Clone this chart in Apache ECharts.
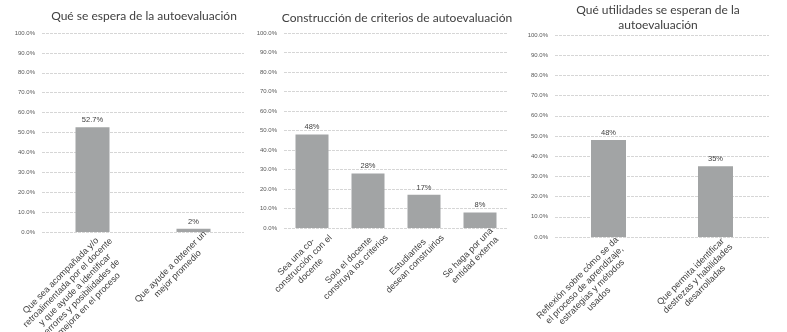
<!DOCTYPE html>
<html>
<head>
<meta charset="utf-8">
<script src="https://cdn.jsdelivr.net/npm/echarts@6/dist/echarts.min.js"></script>
<style>
  html, body { margin: 0; padding: 0; background: #fff; }
  #chart { width: 787px; height: 332px; }
</style>
</head>
<body>
<div id="chart"></div>
<script>
// data
var titles = [
  "Qué se espera de la autoevaluación",
  "Construcción de criterios de autoevaluación",
  "Qué utilidades se esperan de la\nautoevaluación"
];

var cats1 = [
  "Que sea acompañada y/o\nretroalimentada por el docente\ny que ayude a identificar\nerrores y posibilidades de\nmejora en el proceso",
  "Que ayude a obtener un\nmejor promedio"
];
var vals1 = [52.7, 1.6];
var labels1 = ["52.7%", "2%"];

var cats2 = [
  "Sea una co-\nconstrucción con el\ndocente",
  "Solo el docente\nconstruya los criterios",
  "Estudiantes\ndesean construirlos",
  "Se haga por una\nentidad externa"
];
var vals2 = [48, 28, 17, 8];
var labels2 = ["48%", "28%", "17%", "8%"];

var cats3 = [
  "Reflexión sobre cómo se da\nel proceso de aprendizaje,\nestrategias y métodos\nusados",
  "Que permita identificar\ndestrezas y habilidades\ndesarrolladas"
];
var vals3 = [48, 35];
var labels3 = ["48%", "35%"];

// estilos
var barColor = "#a2a4a5";
var gridColor = "#d6d6d6";
var textColor = "#404040";
var fontAxis = "Liberation Sans";
var fontTitle = "Lato";

// posiciones de cada panel (lx / ly: desplazamiento de las etiquetas giradas)
var grids = [
  { left: 42, width: 202, top: 33, bottom: 100, lx: 8, ly: 3 },
  { left: 284, width: 224, top: 33, bottom: 104, lx: 8, ly: 2 },
  { left: 555, width: 214, top: 35, bottom: 95, lx: 5, ly: 2 }
];
var titlePos = [
  { x: 139, y: 4 },
  { x: 392, y: 6 },
  { x: 653, y: -2 }
];
var barWidths = [34, 33, 35];

var allCats = [cats1, cats2, cats3];
var allVals = [vals1, vals2, vals3];
var allLabels = [labels1, labels2, labels3];

function wrapLines(s) {
  return s.split("\n").map(function (l) { return "{c|" + l + "}"; }).join("\n");
}

var option = {
  backgroundColor: "#fff",
  animation: false,
  title: [],
  grid: [],
  xAxis: [],
  yAxis: [],
  series: []
};

for (var i = 0; i < 3; i++) {
  option.title.push({
    text: titles[i],
    left: titlePos[i].x,
    top: titlePos[i].y,
    textAlign: "center",
    textStyle: {
      color: textColor,
      fontFamily: fontTitle,
      fontWeight: "normal",
      fontSize: 12,
      lineHeight: 15
    }
  });
  option.grid.push({
    left: grids[i].left,
    width: grids[i].width,
    top: grids[i].top,
    bottom: grids[i].bottom,
    outerBoundsMode: "none",
    containLabel: false
  });
  option.xAxis.push({
    type: "category",
    gridIndex: i,
    data: allCats[i],
    axisLine: { show: false },
    axisTick: { show: false },
    axisLabel: { show: false }
  });
  option.yAxis.push({
    type: "value",
    gridIndex: i,
    min: 0,
    max: 100,
    interval: 10,
    axisLine: { show: false },
    axisTick: { show: false },
    axisLabel: {
      margin: 7,
      color: "#595959",
      fontFamily: fontAxis,
      fontSize: 6,
      formatter: function (v) { return v.toFixed(1) + "%"; }
    },
    splitLine: {
      lineStyle: { color: gridColor, type: [3, 1], width: 1 }
    }
  });
  (function (idx) {
    option.series.push({
      type: "bar",
      xAxisIndex: idx,
      yAxisIndex: idx,
      data: allVals[idx],
      barWidth: barWidths[idx],
      itemStyle: { color: barColor },
      label: {
        show: true,
        position: "top",
        distance: 3,
        color: textColor,
        fontFamily: fontAxis,
        fontSize: 7.5,
        formatter: function (p) { return allLabels[idx][p.dataIndex]; }
      }
    });
  })(i);
}

// ejes solo para las etiquetas giradas, un poco desplazados como en Excel
for (var k = 0; k < 3; k++) {
  option.grid.push({
    left: grids[k].left + grids[k].lx,
    width: grids[k].width,
    top: grids[k].top,
    bottom: grids[k].bottom + grids[k].ly,
    outerBoundsMode: "none",
    containLabel: false
  });
  option.xAxis.push({
    type: "category",
    gridIndex: 3 + k,
    data: allCats[k],
    axisLine: { show: false },
    axisTick: { show: false },
    splitLine: { show: false },
    axisLabel: {
      interval: 0,
      rotate: 45,
      margin: 0,
      verticalAlign: "top",
      color: textColor,
      fontFamily: fontAxis,
      fontSize: 9,
      lineHeight: 10,
      formatter: function (v) { return wrapLines(v); },
      rich: {
        c: { align: "center", fontSize: 9, lineHeight: 10, color: textColor, fontFamily: fontAxis }
      }
    }
  });
  option.yAxis.push({
    type: "value",
    gridIndex: 3 + k,
    min: 0,
    max: 100,
    show: false
  });
}

var myChart = echarts.init(document.getElementById("chart"));
myChart.setOption(option);
</script>
</body>
</html>
